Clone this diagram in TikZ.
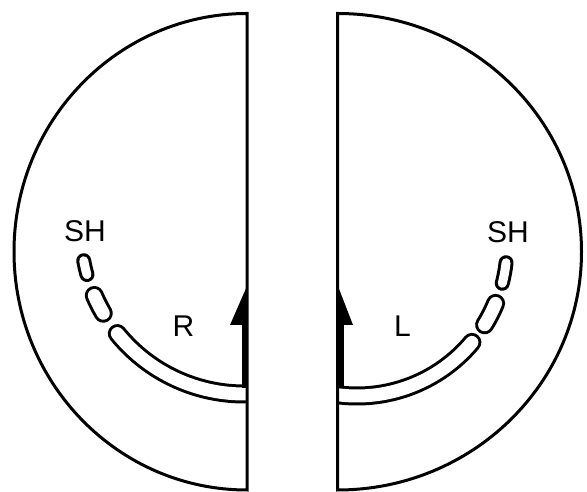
\documentclass[tikz,border=0pt]{standalone}
\usepackage{fontspec}
\setmainfont{Liberation Sans}

\begin{document}
\begin{tikzpicture}[x=1pt,y=1pt,
  outline/.style={line width=3pt},
  band/.style={line width=3pt, double distance=13pt, line cap=round},
  thinband/.style={line width=3pt, double distance=9pt, line cap=round},
  lab/.style={inner sep=0pt, font=\fontsize{30}{30}\selectfont}]
\useasboundingbox (0,0) rectangle (587,492);

% left half (R)
\begin{scope}
\clip (0,0) rectangle (247,492);
\draw[band] (244,261) ++(219:163) arc[start angle=219, end angle=285, radius=163];
\end{scope}
\draw[band] (244,261) ++(203.3:163) arc[start angle=203.3, end angle=210.3, radius=163];
\draw[thinband] (244,261) ++(190.5:163) arc[start angle=190.5, end angle=195.5, radius=163];
\draw[outline] (247,2) -- (247,478.5) arc[start angle=90, end angle=270, x radius=233, y radius=238.25] -- cycle;

\fill (241.5,104) rectangle (247,167);
\fill (230,167) -- (247.5,167) -- (247.5,207) -- cycle;

% right half (L)
\begin{scope}
\clip (337.5,0) rectangle (587,492);
\draw[band] (357,246) ++(320:150) arc[start angle=320, end angle=255, radius=150];
\end{scope}
\draw[band] (357,246) ++(328.3:150) arc[start angle=328.3, end angle=337.5, radius=150];
\draw[thinband] (357,246) ++(345.6:150) arc[start angle=345.6, end angle=353.6, radius=150];
\draw[outline] (337.5,2) -- (337.5,478.5) arc[start angle=90, end angle=-90, x radius=244, y radius=238.25] -- cycle;

\fill (337.5,104) rectangle (343.5,167);
\fill (337.5,207) -- (337.5,167) -- (353,167) -- cycle;

% labels
\node[lab] (shl) at (85,260.5) {SH};
\node[lab] (shr) at (508,260) {SH};
\node[lab] (r) at (183.5,165.5) {R};
\node[lab] (l) at (402.5,165.5) {L};
\end{tikzpicture}
\end{document}
